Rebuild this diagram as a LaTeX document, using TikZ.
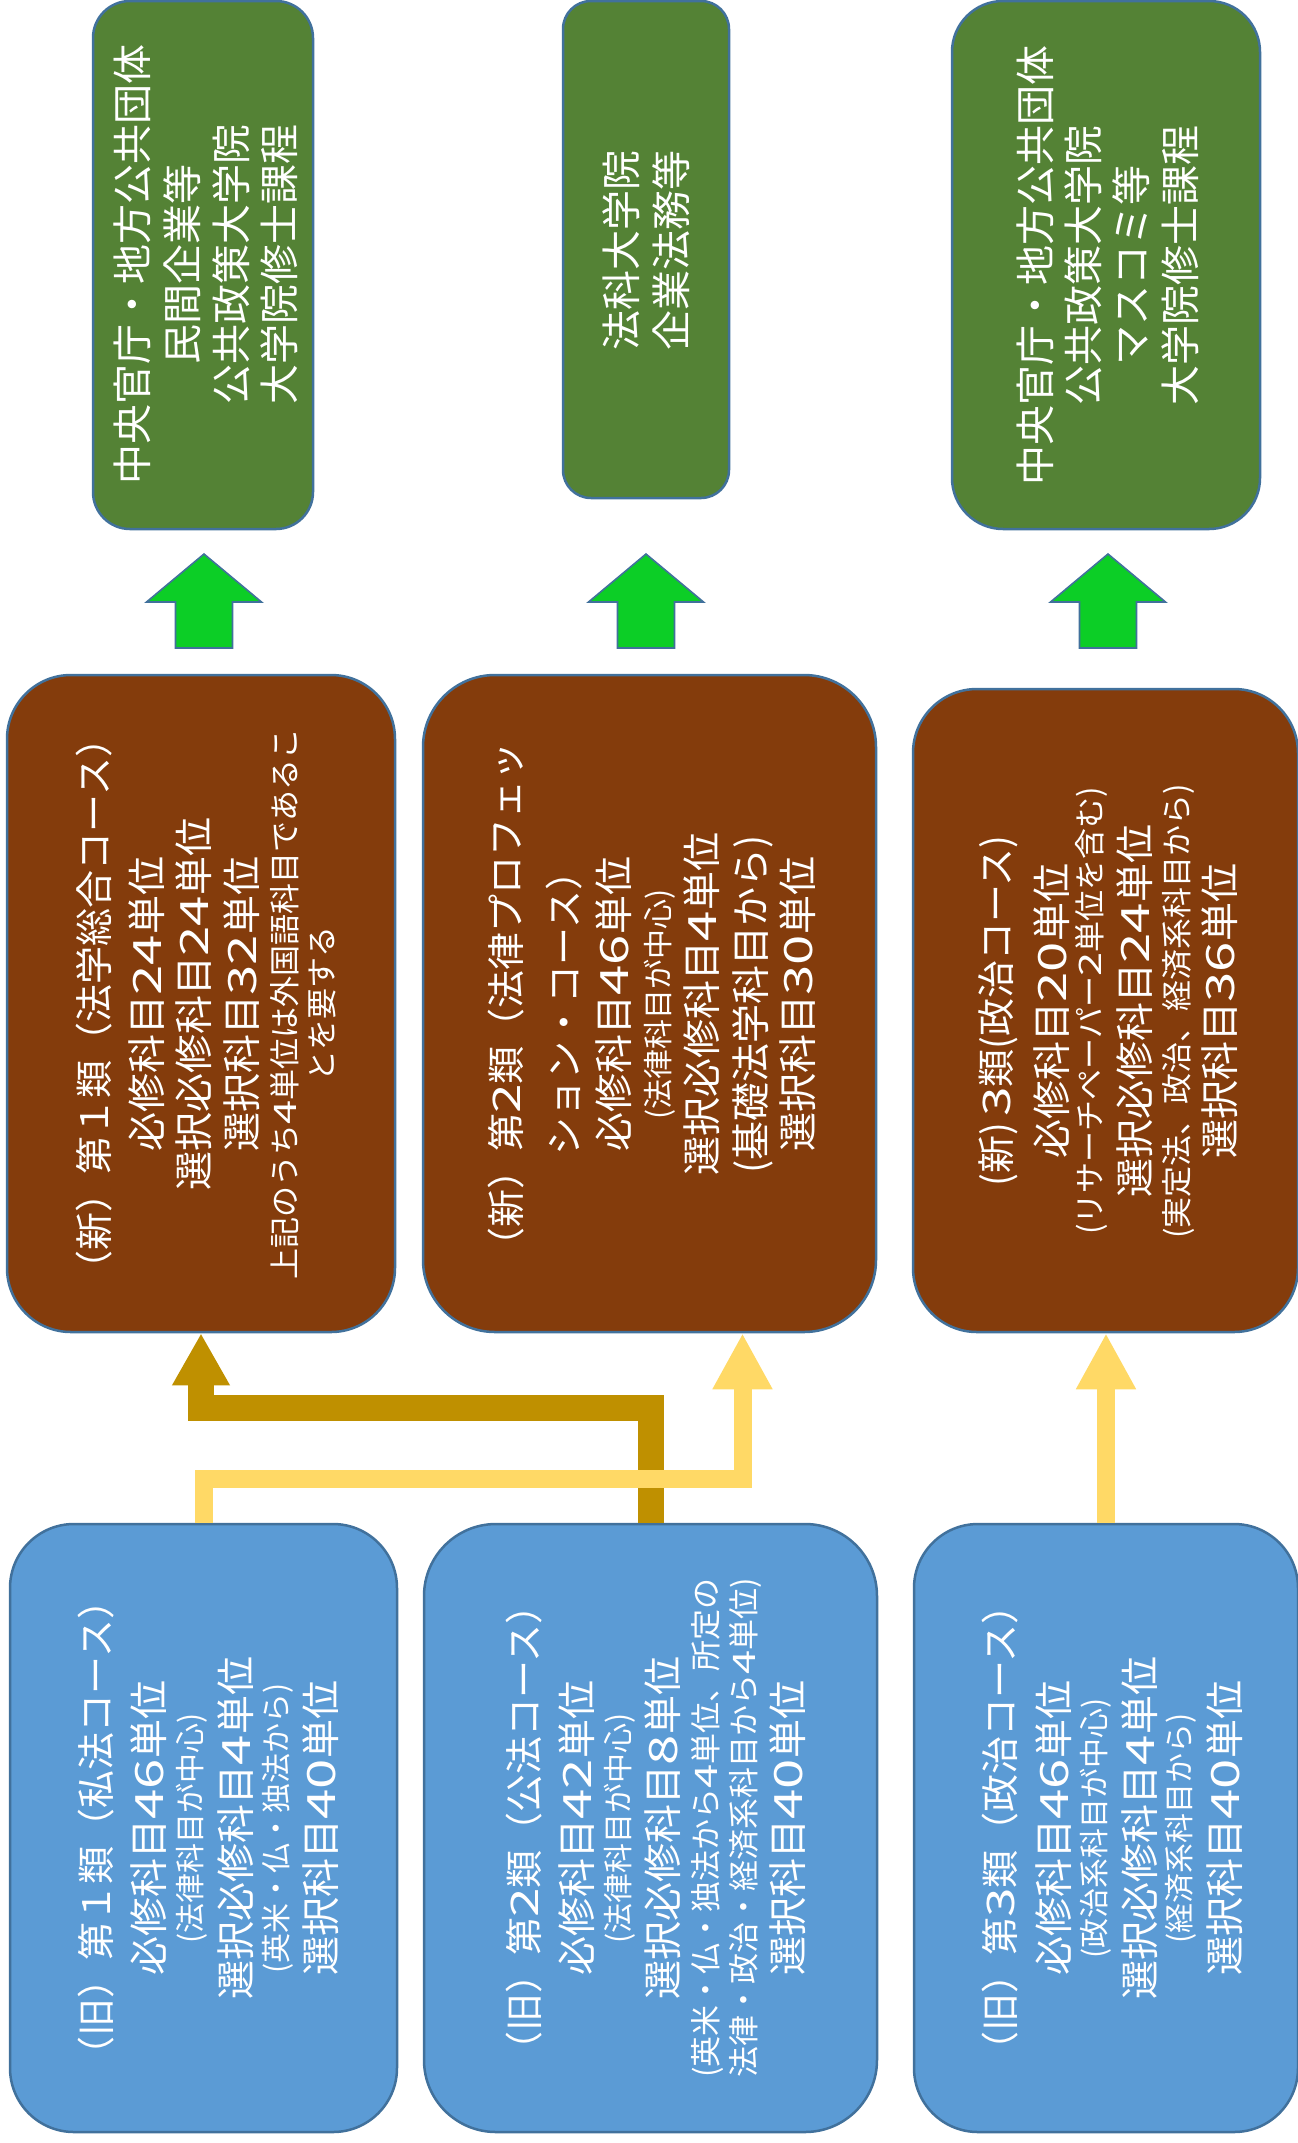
\documentclass[tikz,border=0pt]{standalone}
\usepackage{fontspec}
\setmainfont{Noto Sans CJK JP}
\usepackage{graphicx}
\usetikzlibrary{arrows.meta,calc}
\definecolor{grn}{HTML}{548235}
\definecolor{brn}{HTML}{843C0C}
\definecolor{blu}{HTML}{5B9BD5}
\definecolor{edge}{HTML}{41719C}
\definecolor{gold}{HTML}{BF9000}
\definecolor{ylw}{HTML}{FFD966}
\definecolor{arrg}{RGB}{12,206,38}
\newcommand\TL[3]{\vskip#1\relax\hbox to 0pt{\hss\smash{\fontsize{#2}{#2}\selectfont\raisebox{-0.36em}{#3}}\hss}}
\newcommand\D[1]{\scalebox{1.4}[1]{#1}}
\newcommand\garrow[1]{\filldraw[garr] (#1,554) -- (#1+57.5,602) -- (#1+28.5,602) -- (#1+28.5,648) -- (#1-28.5,648) -- (#1-28.5,602) -- (#1-57.5,602) -- cycle;}
\tikzset{
  panel/.style={rectangle, draw=edge, line width=1.25pt, fill=#1, inner sep=0pt},
  txt/.style={rotate=90, inner sep=0pt, text=white, anchor=center},
  garr/.style={fill=arrg, draw=edge, line width=0.8pt, line join=miter},
  goldconn/.style={draw=gold, line width=13pt, line join=miter, -{Triangle[length=26pt,width=27pt]}},
  ylwconn/.style={draw=ylw, line width=9pt, line join=miter, -{Triangle[length=28pt,width=28pt]}}
}
\begin{document}
\begin{tikzpicture}[x=0.5pt,y=-0.5pt]
\useasboundingbox (0,0) rectangle (1297,2143);
% top row: destinations
\node[panel=grn, minimum width=110pt, minimum height=264pt, rounded corners=18.5pt] (g1) at (203,265) {};
\node[panel=grn, minimum width=83pt, minimum height=248.5pt, rounded corners=14pt] (g2) at (646,249.5) {};
\node[panel=grn, minimum width=154pt, minimum height=264pt, rounded corners=25.5pt] (g3) at (1106,265) {};
% middle row: new courses
\node[panel=brn, minimum width=194pt, minimum height=328.5pt, rounded corners=32pt] (b1) at (201,1003.5) {};
\node[panel=brn, minimum width=226.5pt, minimum height=328.5pt, rounded corners=36pt] (b2) at (649.5,1003.5) {};
\node[panel=brn, minimum width=192.5pt, minimum height=321.5pt, rounded corners=32pt] (b3) at (1105.5,1010.5) {};
% bottom row: old courses
\node[panel=blu, minimum width=193.5pt, minimum height=304pt, rounded corners=32pt] (bl1) at (203.5,1828) {};
\node[panel=blu, minimum width=226.5pt, minimum height=304pt, rounded corners=36pt] (bl2) at (650.5,1828) {};
\node[panel=blu, minimum width=192pt, minimum height=304pt, rounded corners=32pt] (bl3) at (1106,1828) {};
% green block arrows
\garrow{204}
\garrow{646}
\garrow{1108}
% connectors
\coordinate (gy) at (0,1408);
\coordinate (yy) at (0,1479);
\coordinate (ytgt) at ($(b2.south)+(93,0)$);
\draw[goldconn] (bl2.north) -- (bl2.north |- gy) -| (b1.south);
\draw[ylwconn] (bl1.north) -- (bl1.north |- yy) -| (ytgt);
\draw[ylwconn] (bl3.north) -- (bl3.north |- b3.south);
% texts
\node[txt] (tg1) at (206.5,264) {\vbox{\offinterlineskip
  \TL{0pt}{20pt}{中央官庁・地方公共団体}
  \TL{25pt}{20pt}{民間企業等}
  \TL{24.5pt}{20pt}{公共政策大学院}
  \TL{24pt}{20pt}{大学院修士課程}}};
\node[txt] (tg2) at (647,250) {\vbox{\offinterlineskip
  \TL{0pt}{20pt}{法科大学院}
  \TL{25pt}{20pt}{企業法務等}}};
\node[txt] (tg3) at (1108.5,265) {\vbox{\offinterlineskip
  \TL{0pt}{20pt}{中央官庁・地方公共団体}
  \TL{24pt}{20pt}{公共政策大学院}
  \TL{24pt}{20pt}{マスコミ等}
  \TL{24.5pt}{20pt}{大学院修士課程}}};
\node[txt] (tb1) at (208.5,1004) {\vbox{\offinterlineskip
  \TL{0pt}{19pt}{（新）第１類（法学総合コース）}
  \TL{26pt}{19.5pt}{必修科目\D{24}単位}
  \TL{23.5pt}{19.5pt}{選択必修科目\D{24}単位}
  \TL{24pt}{19.5pt}{選択科目\D{32}単位}
  \TL{21.5pt}{15.5pt}{上記のうち\D{4}単位は外国語科目であるこ}
  \TL{18.5pt}{15.5pt}{とを要する}}};
\node[txt] (tb2) at (652.5,1004) {\vbox{\offinterlineskip
  \TL{0pt}{19pt}{（新）第\D{2}類（法律プロフェッ}
  \TL{29pt}{19pt}{ション・コース）}
  \TL{24.5pt}{19.5pt}{必修科目\D{46}単位}
  \TL{22.5pt}{15pt}{(法律科目が中心)}
  \TL{21.5pt}{19.5pt}{選択必修科目\D{4}単位}
  \TL{24.5pt}{19.5pt}{(基礎法学科目から)}
  \TL{23.5pt}{19.5pt}{選択科目\D{30}単位}}};
\node[txt] (tb3) at (1108.5,1011) {\vbox{\offinterlineskip
  \TL{0pt}{19pt}{(新)\,\D{3}類(政治コース)}
  \TL{27.5pt}{19.5pt}{必修科目\D{20}単位}
  \TL{19pt}{15.5pt}{(リサーチペーパー\D{2}単位を含む)}
  \TL{22.5pt}{19.5pt}{選択必修科目\D{24}単位}
  \TL{21pt}{15.5pt}{(実定法、政治、経済系科目から)}
  \TL{21.5pt}{19.5pt}{選択科目\D{36}単位}}};
\node[txt] (tl1) at (209,1828) {\vbox{\offinterlineskip
  \TL{0pt}{19pt}{（旧）第１類（私法コース）}
  \TL{26pt}{19.5pt}{必修科目\D{46}単位}
  \TL{21pt}{15pt}{(法律科目が中心)}
  \TL{22.5pt}{19.5pt}{選択必修科目\D{4}単位}
  \TL{20.5pt}{15pt}{(英米・仏・独法から)}
  \TL{22pt}{19.5pt}{選択科目\D{40}単位}}};
\node[txt] (tl2) at (656.5,1828) {\vbox{\offinterlineskip
  \TL{0pt}{19pt}{（旧）第\D{2}類（公法コース）}
  \TL{26pt}{19.5pt}{必修科目\D{42}単位}
  \TL{21pt}{15pt}{(法律科目が中心)}
  \TL{22pt}{19.5pt}{選択必修科目\D{8}単位}
  \TL{21.5pt}{15.5pt}{(英米・仏・独法から\D{4}単位、所定の}
  \TL{19pt}{15.5pt}{法律・政治・経済系科目から\D{4}単位)}
  \TL{22pt}{19.5pt}{選択科目\D{40}単位}}};
\node[txt] (tl3) at (1113,1828) {\vbox{\offinterlineskip
  \TL{0pt}{19pt}{（旧）第\D{3}類（政治コース）}
  \TL{26.5pt}{19.5pt}{必修科目\D{46}単位}
  \TL{20.5pt}{15pt}{(政治系科目が中心)}
  \TL{22.5pt}{19.5pt}{選択必修科目\D{4}単位}
  \TL{20pt}{15pt}{(経済系科目から)}
  \TL{22.5pt}{19.5pt}{選択科目\D{40}単位}}};
\end{tikzpicture}
\end{document}
